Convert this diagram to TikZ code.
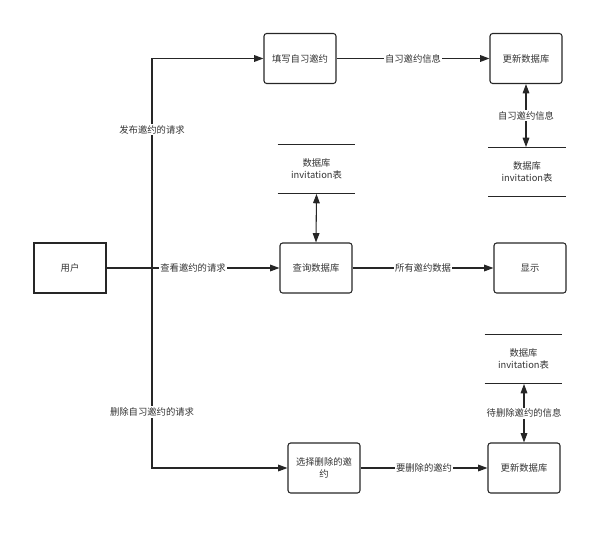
\documentclass[tikz,border=0pt]{standalone}
\usepackage{fontspec}
\setmainfont{Noto Sans CJK SC}
\usetikzlibrary{arrows.meta}
\begin{document}
\begin{tikzpicture}[x=0.75pt,y=-0.75pt,
  font=\fontsize{7}{8.5}\selectfont,
  proc/.style={draw=black!85,line width=0.8pt,rounded corners=2pt,minimum width=54pt,minimum height=37.5pt,inner sep=1pt,align=center,text width=50pt,text=black!80},
  ent/.style={draw=black!85,line width=0.8pt,minimum width=54pt,minimum height=37.5pt,align=center,text=black!80},
  db/.style={minimum width=58pt,minimum height=37pt,align=center,text=black!80,inner sep=0pt},
  lbl/.style={fill=white,inner sep=1pt,text=black!80},
  arr/.style={draw=black!85,line width=0.8pt,-{Triangle[length=7pt,width=5pt]}},
  darr/.style={draw=black!85,line width=0.8pt,{Triangle[length=7pt,width=5pt]}-{Triangle[length=7pt,width=5pt]}},
  dbline/.style={draw=black!85,line width=0.8pt}]
\useasboundingbox (0,0) rectangle (611,539);
\node[ent] (user) at (70,268) {用户};
\node[proc] (fill) at (300,58.5) {填写自习邀约};
\node[proc] (upd1) at (526,58.5) {更新数据库};
\node[db] (db1) at (527,172) {数据库\\invitation表};
\node[db] (db2) at (316.5,169) {数据库\\invitation表};
\node[proc] (qry) at (316,268) {查询数据库};
\node[proc] (show) at (530,268) {显示};
\node[db] (db3) at (523.5,359) {数据库\\invitation表};
\node[proc] (sel) at (324,468) {选择删除的邀\\约};
\node[proc] (upd2) at (524,468) {更新数据库};
\coordinate (j) at (152,268);
\foreach \d in {db1,db2,db3}{
  \draw[dbline] (\d.north west) -- (\d.north east);
  \draw[dbline] (\d.south west) -- (\d.south east);
}
\draw[arr] (user.east) -- node[lbl]{查看邀约的请求} (qry.west);
\draw[arr] (j) |- node[lbl,pos=0.33]{发布邀约的请求} (fill.west);
\draw[arr] (j) |- node[lbl,pos=0.36]{删除自习邀约的请求} (sel.west);
\draw[arr] (fill.east) -- node[lbl]{自习邀约信息} (upd1.west);
\draw[arr] (qry.east) -- node[lbl]{所有邀约数据} (show.west);
\draw[arr] (sel.east) -- node[lbl]{要删除的邀约} (upd2.west);
\draw[darr] (upd1.south) -- node[lbl]{自习邀约信息} (upd1.south |- db1.north);
\draw[darr] (db2.south) -- (qry.north);
\draw[darr] (upd2.north) -- node[lbl]{待删除邀约的信息} (upd2.north |- db3.south);
\end{tikzpicture}
\end{document}
